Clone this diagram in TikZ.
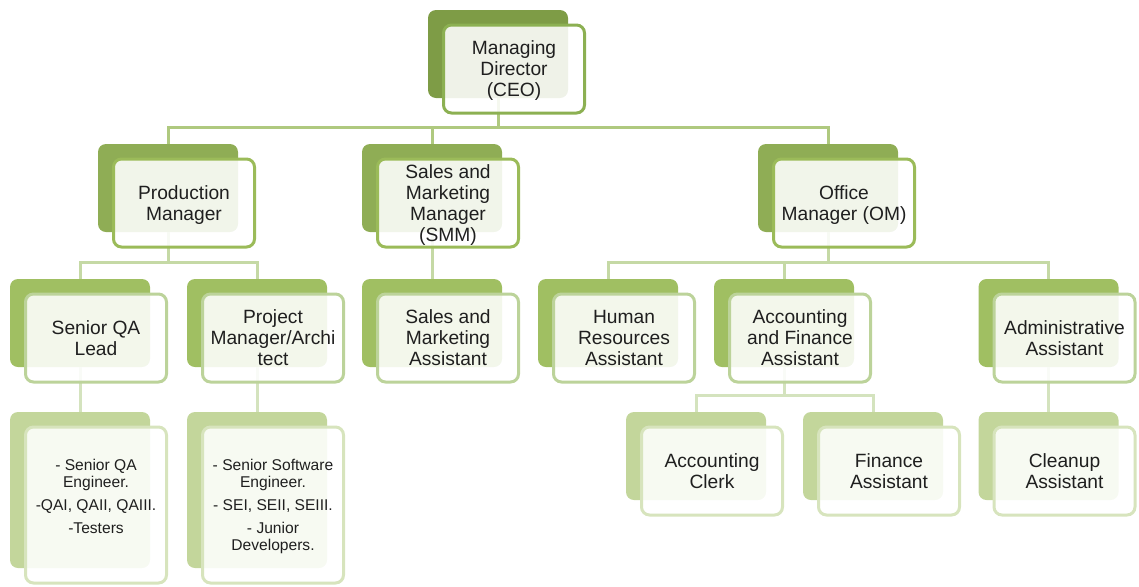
\documentclass[tikz,border=0pt]{standalone}
\usepackage{fontspec}
\setmainfont{Liberation Sans}
\usetikzlibrary{positioning}

\definecolor{backA}{HTML}{7E9C46}
\definecolor{lineA}{HTML}{8CB052}
\definecolor{backB}{HTML}{8FAD55}
\definecolor{lineB}{HTML}{9BBB59}
\definecolor{backC}{HTML}{A0BF62}
\definecolor{lineC}{HTML}{BCD39A}
\definecolor{backD}{HTML}{C3D69B}
\definecolor{lineD}{HTML}{D7E4BD}
\definecolor{barA}{HTML}{AFC97F}
\definecolor{barB}{HTML}{C5D9A5}
\definecolor{barC}{HTML}{D4E3BE}

\begin{document}
\begin{tikzpicture}[x=0.75pt,y=-0.75pt,
  back/.style={rounded corners=6pt, minimum width=105pt, minimum height=66pt, inner sep=0pt},
  front/.style={rounded corners=6pt, draw, line width=2.25pt, fill=white, fill opacity=0.88,
    text opacity=1, minimum width=105.75pt, minimum height=66pt, inner sep=2pt,
    text depth=0pt, align=center, text=black!88, font=\fontsize{14.4}{15.75}\selectfont},
  tall/.style={minimum height=117pt},
  small/.style={font=\fontsize{11.7}{12.75}\selectfont},
  conn/.style={line width=2.25pt}]
\useasboundingbox (0,0) rectangle (1139,586);

% shadow boxes
\node[back, fill=backA] (ceoB) at (498,54) {};
\node[back, fill=backB] (prodB) at (168,188) {};
\node[back, fill=backB] (smmB) at (432,188) {};
\node[back, fill=backB] (omB) at (828,188) {};
\node[back, fill=backC] (qaB) at (80,323) {};
\node[back, fill=backC] (pmB) at (257,323) {};
\node[back, fill=backC] (smaB) at (432,323) {};
\node[back, fill=backC] (hraB) at (608,323) {};
\node[back, fill=backC] (afaB) at (784,323) {};
\node[back, fill=backC] (adaB) at (1048.5,323) {};
\node[back, tall, fill=backD] (qatB) at (80,490) {};
\node[back, tall, fill=backD] (pmtB) at (257,490) {};
\node[back, fill=backD] (acB) at (696,456) {};
\node[back, fill=backD] (faB) at (873,456) {};
\node[back, fill=backD] (caB) at (1048.5,456) {};

% connectors
\foreach \c in {prodB,smmB,omB}
  \draw[conn, barA] (ceoB.south) |- ([yshift=12pt]\c.north) -- (\c.north);
\foreach \c in {qaB,pmB}
  \draw[conn, barB] (prodB.south) |- ([yshift=12pt]\c.north) -- (\c.north);
\draw[conn, barB] (smmB.south) -- (smaB.north);
\foreach \c in {hraB,afaB,adaB}
  \draw[conn, barB] (omB.south) |- ([yshift=12pt]\c.north) -- (\c.north);
\draw[conn, barC] (qaB.south) -- (qatB.north);
\draw[conn, barC] (pmB.south) -- (pmtB.north);
\foreach \c in {acB,faB}
  \draw[conn, barC] (afaB.south) |- ([yshift=12pt]\c.north) -- (\c.north);
\draw[conn, barC] (adaB.south) -- (caB.north);

% front boxes
\node[front, draw=lineA] (ceo) at ([shift={(16,15)}]ceoB.center) {Managing\\Director\\(CEO)};
\node[front, draw=lineB] (prod) at ([shift={(16,15)}]prodB.center) {Production\\Manager};
\node[front, draw=lineB] (smm) at ([shift={(16,15)}]smmB.center) {Sales and\\Marketing\\Manager\\(SMM)};
\node[front, draw=lineB] (om) at ([shift={(16,15)}]omB.center) {Office\\Manager (OM)};
\node[front, draw=lineC] (qa) at ([shift={(16,15)}]qaB.center) {Senior QA\\Lead};
\node[front, draw=lineC] (pm) at ([shift={(16,15)}]pmB.center) {Project\\Manager/Archi\\tect};
\node[front, draw=lineC] (sma) at ([shift={(16,15)}]smaB.center) {Sales and\\Marketing\\Assistant};
\node[front, draw=lineC] (hra) at ([shift={(16,15)}]hraB.center) {Human\\Resources\\Assistant};
\node[front, draw=lineC] (afa) at ([shift={(16,15)}]afaB.center) {Accounting\\and Finance\\Assistant};
\node[front, draw=lineC] (ada) at ([shift={(16,15)}]adaB.center) {Administrative\\Assistant};
\node[front, tall, small, draw=lineD] (qat) at ([shift={(16,15)}]qatB.center)
  {- Senior QA\\Engineer.\\[4.5pt]-QAI, QAII, QAIII.\\[4.5pt]-Testers\\\mbox{}};
\node[front, tall, small, draw=lineD] (pmt) at ([shift={(16,15)}]pmtB.center)
  {- Senior Software\\Engineer.\\[4.5pt]- SEI, SEII, SEIII.\\[4.5pt]- Junior\\Developers.};
\node[front, draw=lineD] (ac) at ([shift={(16,15)}]acB.center) {Accounting\\Clerk};
\node[front, draw=lineD] (fa) at ([shift={(16,15)}]faB.center) {Finance\\Assistant};
\node[front, draw=lineD] (ca) at ([shift={(16,15)}]caB.center) {Cleanup\\Assistant};
\end{tikzpicture}
\end{document}
